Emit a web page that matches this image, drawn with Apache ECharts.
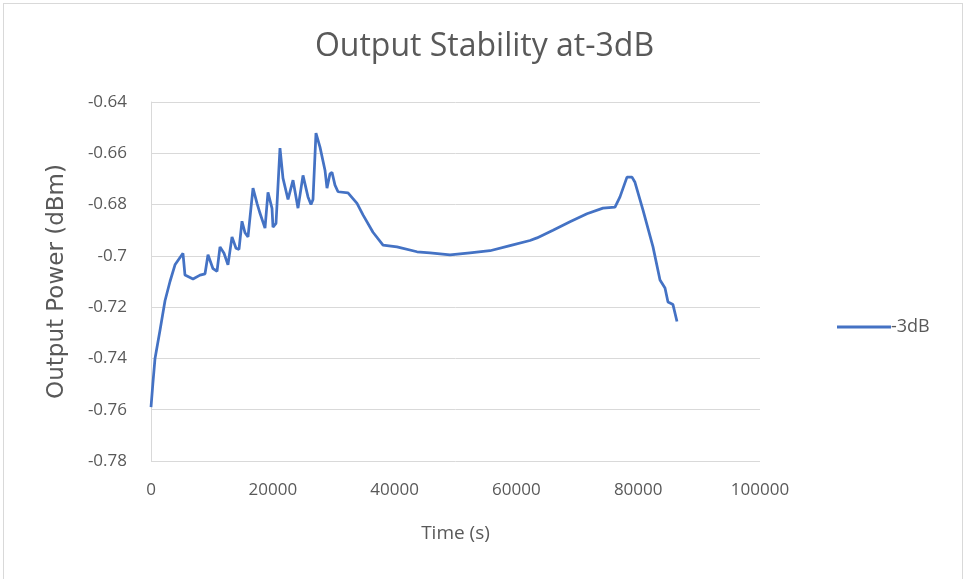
<!DOCTYPE html>
<html>
<head>
<meta charset="utf-8">
<script src="https://cdn.jsdelivr.net/npm/echarts@6/dist/echarts.min.js"></script>
<style>
  html, body { margin: 0; padding: 0; background: #fff; }
  #frame { position: absolute; left: 3px; top: 3px; width: 960px; height: 590px; border: 1px solid #d9d9d9; box-sizing: border-box; }
  #main { position: absolute; left: 0; top: 0; width: 969px; height: 579px; }
</style>
</head>
<body>
<div id="frame"></div>
<div id="main"></div>
<script>
// Output power readings
const times = [0, 300, 660, 1480, 2300, 3120, 3940, 5250, 5580, 6900,
  8050, 8870, 9360, 10180, 10840, 11330, 11990, 12640, 13300, 13960,
  14450, 14940, 15440, 15930, 16750, 17410, 17900, 18720, 19210, 19870,
  20030, 20530, 21180, 21670, 22500, 23320, 24140, 24960, 25780, 26270,
  26600, 27090, 27750, 28570, 28900, 29390, 29720, 30210, 30710, 32350,
  33830, 34810, 36450, 38100, 40390, 43680, 45810, 49100, 52380, 55670,
  58950, 62230, 63380, 66010, 68800, 71590, 74220, 76190, 77010, 78160,
  78980, 79470, 80790, 82430, 83580, 84400, 84890, 85710, 86370];
const power = [-0.759, -0.750, -0.740, -0.729, -0.7175, -0.710, -0.7035, -0.699, -0.7075, -0.709,
  -0.7075, -0.707, -0.6996, -0.705, -0.706, -0.6965, -0.699, -0.7035, -0.6926, -0.697,
  -0.6975, -0.6865, -0.691, -0.6926, -0.6736, -0.6795, -0.6834, -0.6892, -0.6752, -0.6815,
  -0.6888, -0.6873, -0.658, -0.6697, -0.678, -0.6705, -0.6814, -0.6686, -0.677, -0.680,
  -0.678, -0.6521, -0.6576, -0.6666, -0.6736, -0.668, -0.6674, -0.6724, -0.675, -0.6754,
  -0.6795, -0.684, -0.6908, -0.6958, -0.6965, -0.6984, -0.6988, -0.6996, -0.6988, -0.698,
  -0.696, -0.694, -0.693, -0.690, -0.6867, -0.6836, -0.6814, -0.681, -0.677, -0.6693,
  -0.6693, -0.6713, -0.6822, -0.6965, -0.7094, -0.7125, -0.718, -0.719, -0.7256];
const seriesName = '-3dB';

let myChart = echarts.init(document.getElementById('main'));

let option = {
    animation: false,
    title: {
        text: 'Output Stability at-3dB',
        left: 'center',
        top: 26,
        textStyle: { color: '#595959', fontFamily: 'Open Sans', fontSize: 32, fontWeight: 'normal' }
    },
    legend: {
        data: [seriesName],
        orient: 'vertical',
        left: 832,
        top: 313,
        itemWidth: 54,
        itemHeight: 3,
        itemGap: 4,
        icon: 'rect',
        textStyle: { color: '#595959', fontFamily: 'Open Sans', fontSize: 18, padding: [0, 0, 0, -5] }
    },
    grid: { left: 151, right: 209, top: 102, bottom: 118, containLabel: false },
    xAxis: {
        type: 'value',
        min: 0,
        max: 100000,
        interval: 20000,
        name: 'Time (s)',
        nameLocation: 'middle',
        nameGap: 63,
        nameTextStyle: { color: '#595959', fontFamily: 'Open Sans', fontSize: 19 },
        axisLine: { show: false },
        axisTick: { show: false },
        splitLine: { show: false },
        axisLabel: { color: '#595959', fontFamily: 'Open Sans', fontSize: 17, margin: 21,
            formatter: function (v) { return String(v); } }
    },
    yAxis: {
        type: 'value',
        min: -0.78,
        max: -0.64,
        interval: 0.02,
        name: 'Output Power (dBm)',
        nameLocation: 'middle',
        nameGap: 82,
        nameTextStyle: { color: '#595959', fontFamily: 'DejaVu Sans', fontSize: 23 },
        axisLine: { show: true, lineStyle: { color: '#d9d9d9', width: 1 } },
        axisTick: { show: false },
        splitLine: { lineStyle: { color: '#d9d9d9', width: 1 } },
        axisLabel: { color: '#595959', fontFamily: 'Open Sans', fontSize: 17, margin: 24,
            formatter: function (v) { return String(parseFloat(v.toFixed(2))); } }
    },
    series: [{
        name: seriesName,
        type: 'line',
        data: times.map((t, i) => [t, power[i]]),
        showSymbol: false,
        symbol: 'none',
        lineStyle: { color: '#4472C4', width: 2.75 },
        itemStyle: { color: '#4472C4' }
    }]
};

myChart.setOption(option);
</script>
</body>
</html>
